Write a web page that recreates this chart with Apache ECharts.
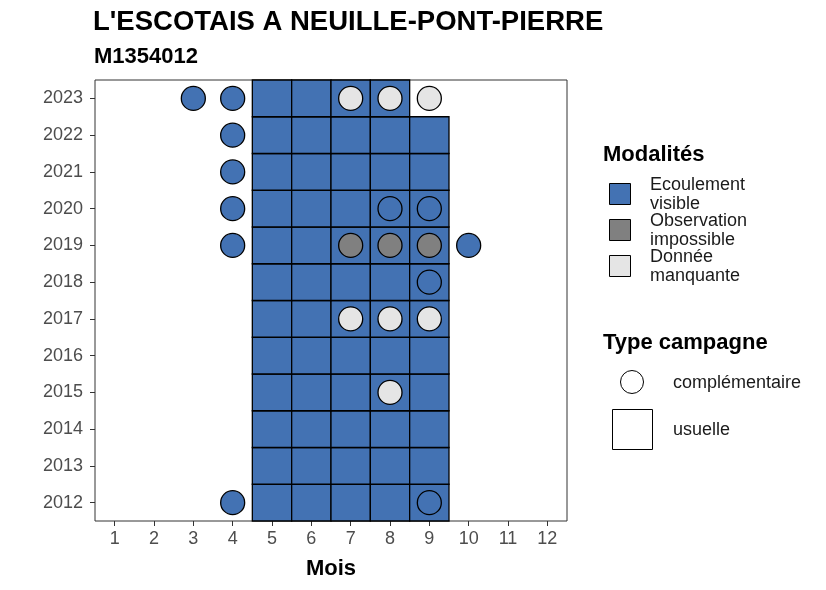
<!DOCTYPE html>
<html><head><meta charset="utf-8">
<script src="https://cdn.jsdelivr.net/npm/echarts@6/dist/echarts.min.js"></script>
<style>html,body{margin:0;padding:0;background:#fff}#c{width:826px;height:590px}</style>
</head><body><div id="c"></div>
<script>
const months = ['1','2','3','4','5','6','7','8','9','10','11','12'];
const years = ['2012','2013','2014','2015','2016','2017','2018','2019','2020','2021','2022','2023'];
const modalites = ['Ecoulement visible','Observation impossible','Donnée manquante'];
const modColors = ['#4372b3','#808080','#e5e5e5'];
// usual campaigns (tiles): [month, year, modality index]
const usuelleMonths2012to2022 = ['5','6','7','8','9'];
const usuelleMonths2023 = ['5','6','7','8'];
const usuelle = [];
years.forEach(y => {
  const ms = y === '2023' ? usuelleMonths2023 : usuelleMonths2012to2022;
  ms.forEach(m => usuelle.push([m, y, 0]));
});
// complementary campaigns (circles): [month, year, modality index]
const complementaire = [
  ['3','2023',0],['4','2023',0],['7','2023',2],['8','2023',2],['9','2023',2],
  ['4','2022',0],
  ['4','2021',0],
  ['4','2020',0],['8','2020',0],['9','2020',0],
  ['4','2019',0],['7','2019',1],['8','2019',1],['9','2019',1],['10','2019',0],
  ['9','2018',0],
  ['7','2017',2],['8','2017',2],['9','2017',2],
  ['8','2015',2],
  ['4','2012',0],['9','2012',0]
];

const FONT = '"Liberation Sans", Arial, sans-serif';
const chart = echarts.init(document.getElementById('c'), null, {renderer:'canvas'});

const legendGraphics = [];
legendGraphics.push({type:'text', left:603, top:144, style:{text:'Modalités', font:'bold 22px '+FONT, fill:'#000'}});
const modLines = [['Ecoulement','visible'],['Observation','impossible'],['Donnée','manquante']];
modalites.forEach((m,i) => {
  const y0 = 183 + i*36;
  legendGraphics.push({type:'rect', shape:{x:609.5, y:y0+0.5, width:21, height:21}, style:{fill:modColors[i], stroke:'#000', lineWidth:1}});
  legendGraphics.push({type:'text', left:650, top:y0-7, style:{text:modLines[i][0]+'\n'+modLines[i][1], font:'18px '+FONT, fill:'#1a1a1a', lineHeight:19}});
});
legendGraphics.push({type:'text', left:603, top:332, style:{text:'Type campagne', font:'bold 22px '+FONT, fill:'#000'}});
legendGraphics.push({type:'circle', shape:{cx:632, cy:382, r:11.5}, style:{fill:'#fff', stroke:'#000', lineWidth:1}});
legendGraphics.push({type:'text', left:673, top:374, style:{text:'complémentaire', font:'18px '+FONT, fill:'#1a1a1a'}});
legendGraphics.push({type:'rect', shape:{x:612.5, y:409.5, width:40, height:40}, style:{fill:'#fff', stroke:'#000', lineWidth:1}});
legendGraphics.push({type:'text', left:673, top:421, style:{text:'usuelle', font:'18px '+FONT, fill:'#1a1a1a'}});

chart.setOption({
  animation:false,
  backgroundColor:'#fff',
  title:[
    {text:"L'ESCOTAIS A NEUILLE-PONT-PIERRE", left:93, top:8, padding:0, textStyle:{fontFamily:FONT, fontWeight:'bold', fontSize:27.5, color:'#000'}},
    {text:'M1354012', left:94, top:46, padding:0, textStyle:{fontFamily:FONT, fontWeight:'bold', fontSize:22, color:'#000'}}
  ],
  grid:{left:95, right:259, top:80, bottom:69, show:true, borderColor:'#333', borderWidth:1, backgroundColor:'#fff'},
  xAxis:{type:'category', data:months, name:'Mois', nameLocation:'middle', nameGap:37,
    nameTextStyle:{fontFamily:FONT, fontWeight:'bold', fontSize:22, color:'#000'},
    axisLine:{show:false}, axisTick:{show:true, alignWithLabel:true, length:5, lineStyle:{color:'#333'}},
    axisLabel:{fontFamily:FONT, fontSize:18, color:'#4d4d4d', margin:9}, splitLine:{show:false}},
  yAxis:{type:'category', data:years,
    axisLine:{show:false}, axisTick:{show:true, alignWithLabel:true, length:5, lineStyle:{color:'#333'}},
    axisLabel:{fontFamily:FONT, fontSize:18, color:'#4d4d4d', margin:12}, splitLine:{show:false}},
  graphic:legendGraphics,
  series:[
    {type:'custom', data:usuelle, z:2,
      renderItem:function(params, api){
        const c = api.coord([api.value(0), api.value(1)]);
        const s = api.size([1,1]);
        return {type:'rect', shape:{x:c[0]-s[0]/2, y:c[1]-s[1]/2, width:s[0], height:s[1]},
          style:{fill:modColors[api.value(2)], stroke:'#000', lineWidth:1.3}};
      }},
    {type:'scatter', z:3, symbol:'circle', symbolSize:24,
      data:complementaire.map(d => ({value:[d[0], d[1]], itemStyle:{color:modColors[d[2]]}})),
      itemStyle:{borderColor:'#000', borderWidth:1.3, opacity:1}}
  ]
});
</script></body></html>
